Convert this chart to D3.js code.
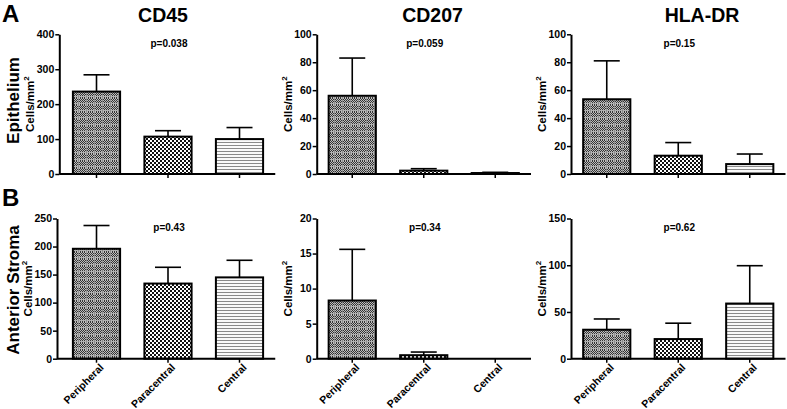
<!DOCTYPE html>
<html><head><meta charset="utf-8">
<script src="https://cdn.jsdelivr.net/npm/d3@7/dist/d3.min.js"></script>
<style>body{margin:0;background:#fff}text{font-family:"Liberation Sans",Arial,sans-serif;font-weight:bold;fill:#000}</style>
</head><body><svg id="c" width="787" height="409"></svg>
<script>
// ---- data ----
const categories = ["Peripheral", "Paracentral", "Central"];
const markers = ["CD45", "CD207", "HLA-DR"];
const regions = ["Epithelium", "Anterior Stroma"];
const rowLetters = ["A", "B"];
const epiCD45 = [236, 107, 100];      const epiCD45Sem = [48, 17, 33];
const epiCD207 = [56, 2.4, 0.7];      const epiCD207Sem = [27, 1.4, 0.5];
const epiHLADR = [53.5, 13.1, 7.1];   const epiHLADRSem = [27.5, 9.4, 7.2];
const stroCD45 = [196, 134, 145];     const stroCD45Sem = [41.5, 29, 30.5];
const stroCD207 = [8.3, 0.5, 0];      const stroCD207Sem = [7.3, 0.45, 0];
const stroHLADR = [31, 21, 59];       const stroHLADRSem = [11.5, 17, 40.5];
const pValues = ["p=0.038", "p=0.059", "p=0.15", "p=0.43", "p=0.34", "p=0.62"];
const yTicks = [
  [0, 100, 200, 300, 400], [0, 20, 40, 60, 80, 100], [0, 20, 40, 60, 80, 100],
  [0, 50, 100, 150, 200, 250], [0, 5, 10, 15, 20], [0, 50, 100, 150]
];
const means = [epiCD45, epiCD207, epiHLADR, stroCD45, stroCD207, stroHLADR];
const sems = [epiCD45Sem, epiCD207Sem, epiHLADRSem, stroCD45Sem, stroCD207Sem, stroHLADRSem];

// ---- layout ----
const svg = d3.select("#c");
const colX = [[60.75, 275.25], [316.5, 531], [571, 785.5]];
const axisX = [[59.3, 316.7, 571], [57, 316.7, 571]];
const rowY = [[34.3, 174], [218.5, 358.7]];
const titleX = [163, 432.5, 702];

// patterns
const defs = svg.append("defs");
const pp = defs.append("pattern").attr("id", "peri").attr("patternUnits", "userSpaceOnUse").attr("width", 8).attr("height", 7);
pp.append("rect").attr("width", 8).attr("height", 7).attr("fill", "#bdbdbd");
for (let y = 0; y < 7; y++) for (let x = 0; x < 8; x++) {
  if (y === 5) continue;
  if (x === 6) continue;
  if ((x + y) % 2 === 0) pp.append("rect").attr("x", x).attr("y", y).attr("width", 1).attr("height", 1).attr("fill", "#333");
}
pp.append("rect").attr("x", 0).attr("y", 5).attr("width", 8).attr("height", 1).attr("fill", "#b0b0b0");
pp.append("rect").attr("x", 6).attr("y", 0).attr("width", 1).attr("height", 7).attr("fill", "#8c8c8c");

const pa = defs.append("pattern").attr("id", "para").attr("patternUnits", "userSpaceOnUse").attr("width", 4).attr("height", 4);
pa.append("rect").attr("width", 4).attr("height", 4).attr("fill", "#fff");
pa.append("rect").attr("width", 2).attr("height", 2).attr("fill", "#111");
pa.append("rect").attr("x", 2).attr("y", 2).attr("width", 2).attr("height", 2).attr("fill", "#111");

const pc = defs.append("pattern").attr("id", "cent").attr("patternUnits", "userSpaceOnUse").attr("width", 4).attr("height", 3);
pc.append("rect").attr("width", 4).attr("height", 3).attr("fill", "#fafafa");
pc.append("rect").attr("y", 1).attr("width", 4).attr("height", 1).attr("fill", "#8a8a8a");
const fills = ["url(#peri)", "url(#para)", "url(#cent)"];

for (let r = 0; r < 2; r++) {
  for (let c = 0; c < 3; c++) {
    const i = r * 3 + c;
    const ticks = yTicks[i];
    const y = d3.scaleLinear().domain([0, ticks[ticks.length - 1]]).range([rowY[r][1], rowY[r][0]]);
    const x = d3.scaleBand().domain(categories).range(colX[c]).paddingInner(0.34).paddingOuter(0.17);
    const g = svg.append("g");
    const ax = axisX[r][c];

    // bars
    categories.forEach((cat, k) => {
      const v = means[i][k], s = sems[i][k];
      if (v > 0) {
        g.append("rect").attr("x", x(cat)).attr("y", y(v)).attr("width", x.bandwidth())
          .attr("height", y(0) - y(v)).attr("fill", fills[k]).attr("stroke", "#000").attr("stroke-width", 2);
      }
      if (s > 0) {
        const cx = x(cat) + x.bandwidth() / 2;
        g.append("line").attr("x1", cx).attr("x2", cx).attr("y1", y(v)).attr("y2", y(v + s))
          .attr("stroke", "#000").attr("stroke-width", 1.6);
        g.append("line").attr("x1", cx - 13).attr("x2", cx + 13).attr("y1", y(v + s)).attr("y2", y(v + s))
          .attr("stroke", "#000").attr("stroke-width", 1.6);
      }
    });

    // y axis
    const ya = g.append("g").attr("transform", `translate(${ax},0)`)
      .call(d3.axisLeft(y).tickValues(ticks).tickSize(4).tickSizeOuter(0).tickPadding(1));
    ya.select(".domain").attr("stroke-width", 2);
    ya.selectAll(".tick line").attr("stroke-width", 1.5);
    ya.selectAll(".tick text").attr("font-size", 10.5).style("font-weight", "bold").attr("font-family", "Liberation Sans, Arial");

    // x axis
    const xa = g.append("g").attr("transform", `translate(0,${rowY[r][1]})`)
      .call(d3.axisBottom(x).tickSize(4).tickSizeOuter(0).tickPadding(3));
    xa.select(".domain").attr("d", `M${ax},0H${colX[c][1]}`).attr("stroke-width", 2);
    xa.selectAll(".tick line").attr("stroke-width", 1.5);
    if (r === 0) xa.selectAll(".tick text").remove();
    else xa.selectAll(".tick text").attr("font-size", 10.5).style("font-weight", "bold")
      .attr("font-family", "Liberation Sans, Arial")
      .attr("text-anchor", "end").attr("dx", "-0.1em").attr("dy", "0.5em")
      .attr("transform", "rotate(-45)");

    // y label
    const yl = svg.append("text").attr("font-size", 11.5).attr("text-anchor", "middle")
      .attr("transform", `translate(${ax - 25},${(rowY[r][0] + rowY[r][1]) / 2}) rotate(-90)`);
    yl.append("tspan").text("Cells/mm");
    yl.append("tspan").attr("font-size", 8).attr("dy", -5).text("2");

    // p value
    svg.append("text").attr("x", (colX[c][0] + colX[c][1]) / 2 + 1).attr("y", rowY[r][0] + 12.5)
      .attr("text-anchor", "middle").attr("font-size", 10).text(pValues[i]);
  }
  // row labels
  svg.append("text").attr("font-size", 17).attr("text-anchor", "middle")
    .attr("transform", `translate(19,${r === 0 ? 100.5 : 290}) rotate(-90)`).text(regions[r]);
  svg.append("text").attr("x", 2).attr("y", r === 0 ? 22 : 205.5).attr("font-size", 24).text(rowLetters[r]);
}
markers.forEach((m, c) => {
  svg.append("text").attr("x", titleX[c]).attr("y", 22).attr("text-anchor", "middle").attr("font-size", 19.5).text(m);
});
</script></body></html>
